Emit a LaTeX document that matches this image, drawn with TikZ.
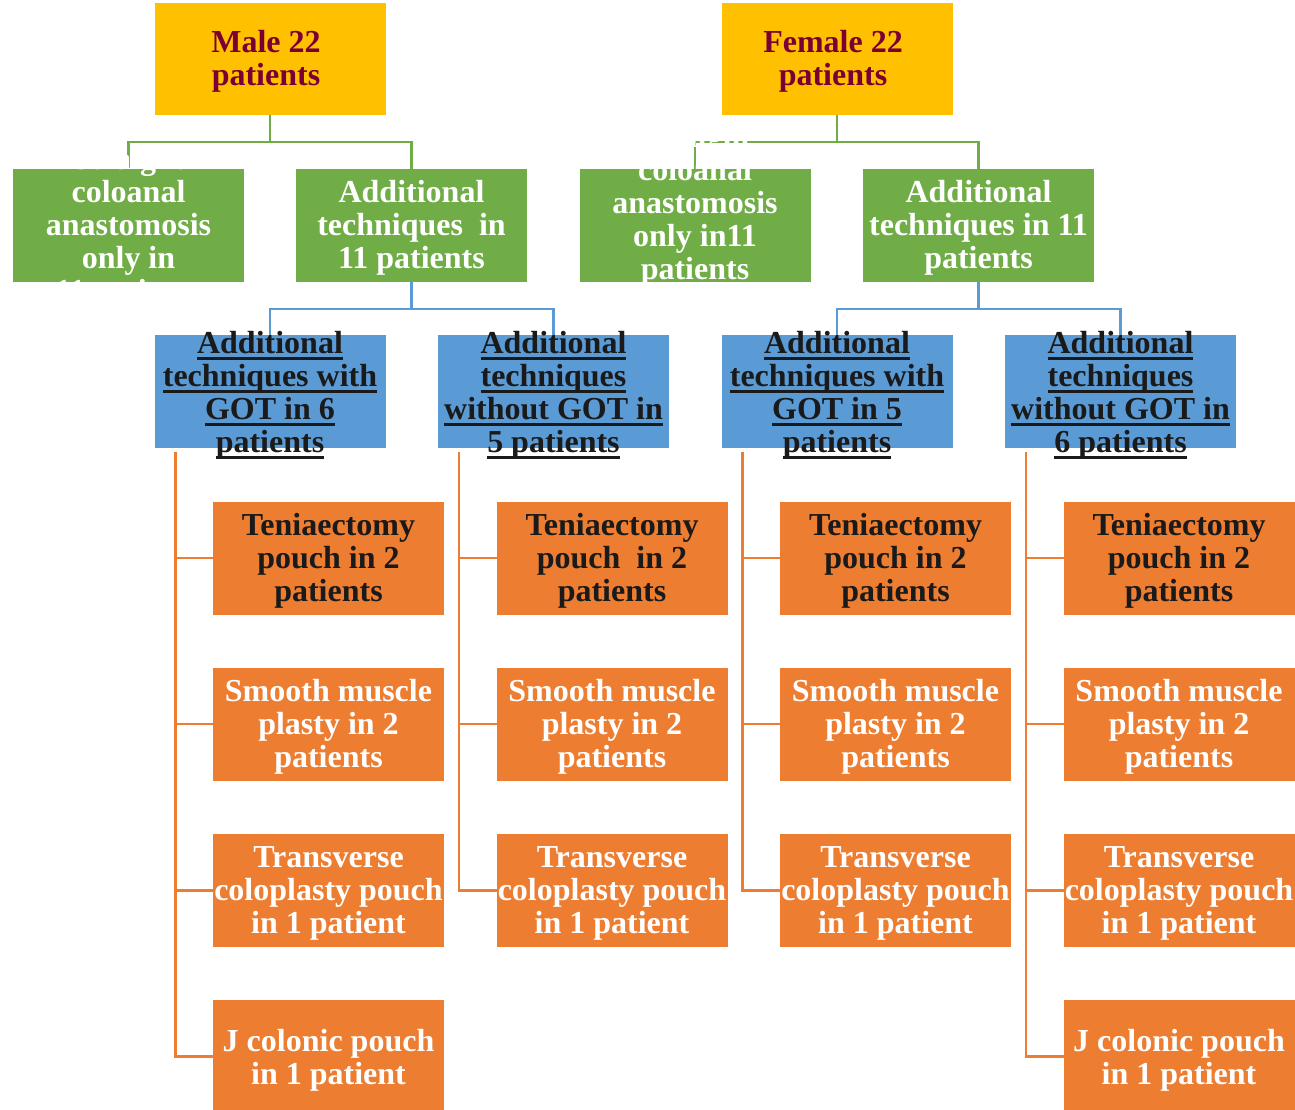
\documentclass[tikz,border=0pt]{standalone}
\usepackage{fontspec}
\setmainfont{Liberation Serif}
\definecolor{yelC}{HTML}{FFC000}
\definecolor{grnC}{HTML}{70AD47}
\definecolor{bluC}{HTML}{5B9BD5}
\definecolor{orgC}{HTML}{ED7D31}
\definecolor{marC}{HTML}{7A0034}
\definecolor{drkC}{HTML}{1A1A1A}
\newcommand\ulx[1]{\setbox0=\hbox{#1}\rlap{\smash{\rule[-6.5pt]{\wd0}{2.8pt}}}\box0}
\begin{document}
\begin{tikzpicture}[x=1pt,y=-1pt,
  box/.style={rectangle, minimum width=231pt, minimum height=113pt, inner sep=0pt, outer sep=0pt},
  yel/.style={box, fill=yelC, minimum height=112pt},
  grn/.style={box, fill=grnC},
  blu/.style={box, fill=bluC},
  org/.style={box, fill=orgC},
  txt/.style={align=center, inner sep=0pt, yshift=-2.5pt, font=\fontsize{32}{33}\selectfont\bfseries},
  wtxt/.style={txt, text=white},
  gline/.style={draw=grnC, line width=2.5pt},
  bline/.style={draw=bluC, line width=2.5pt},
  oline/.style={draw=orgC, line width=2.5pt}]
\useasboundingbox (0,0) rectangle (1295,1110);
% boxes
\node[yel] (male) at (270,59) {};
\node[yel] (fem) at (837,59) {};
\node[grn] (ms) at (128.5,225.5) {};
\node[grn] (ma) at (411.5,225.5) {};
\node[grn] (fs) at (695,225.5) {};
\node[grn] (fa) at (978.5,225.5) {};
\node[blu] (mg) at (270,391.5) {};
\node[blu] (mn) at (553.5,391.5) {};
\node[blu] (fg) at (837,391.5) {};
\node[blu] (fn) at (1120.5,391.5) {};
% orange boxes
\foreach \c/\x in {1/328.5,2/612,3/895.5,4/1179}{
  \node[org] (o\c1) at (\x,558) {};
  \node[org] (o\c2) at (\x,724) {};
  \node[org] (o\c3) at (\x,890.5) {};
}
\node[org] (o14) at (328.5,1056.5) {};
\node[org] (o44) at (1179,1056.5) {};
% connectors
\draw[gline] (male.south) -- ++(0,27) -| (ms.north);
\draw[gline] (male.south) -- ++(0,27) -| (ma.north);
\draw[gline] (fem.south) -- ++(0,27) -| (fs.north);
\draw[gline] (fem.south) -- ++(0,27) -| (fa.north);
\draw[bline] (ma.south) -- ++(0,27) -| (mg.north);
\draw[bline] (ma.south) -- ++(0,27) -| (mn.north);
\draw[bline] (fa.south) -- ++(0,27) -| (fg.north);
\draw[bline] (fa.south) -- ++(0,27) -| (fn.north);
\coordinate (c1) at ([xshift=21pt,yshift=-4pt]mg.south west);
\coordinate (c2) at ([xshift=21pt,yshift=-4pt]mn.south west);
\coordinate (c3) at ([xshift=21pt,yshift=-4pt]fg.south west);
\coordinate (c4) at ([xshift=21pt,yshift=-4pt]fn.south west);
\draw[oline] (c1) |- (o11.west) (c1) |- (o12.west) (c1) |- (o13.west) (c1) |- (o14.west);
\draw[oline] (c2) |- (o21.west) (c2) |- (o22.west) (c2) |- (o23.west);
\draw[oline] (c3) |- (o31.west) (c3) |- (o32.west) (c3) |- (o33.west);
\draw[oline] (c4) |- (o41.west) (c4) |- (o42.west) (c4) |- (o43.west) (c4) |- (o44.west);
% texts
\node[txt, text=marC] (tmale) at ([xshift=-4pt]male.center) {Male 22\\patients};
\node[txt, text=marC] (tfem) at ([xshift=-4pt]fem.center) {Female 22\\patients};
\node[wtxt] (tms) at (ms.center) {Straight\\coloanal\\anastomosis\\only in\\11 patients};
\node[wtxt] (tma) at (ma.center) {Additional\\techniques\ \ in\\11 patients};
\node[wtxt] (tfs) at ([yshift=22pt]fs.center) {Straight\\coloanal\\anastomosis\\only in11\\patients};
\node[wtxt] (tfa) at (fa.center) {Additional\\techniques in 11\\patients};
\node[txt, text=drkC] (tmg) at ([yshift=-1pt]mg.center) {\ulx{Additional}\\\ulx{techniques with}\\\ulx{GOT in 6}\\\ulx{patients}};
\node[txt, text=drkC] (tmn) at ([yshift=-1pt]mn.center) {\ulx{Additional}\\\ulx{techniques}\\\ulx{without GOT in}\\\ulx{5 patients}};
\node[txt, text=drkC] (tfg) at ([yshift=-1pt]fg.center) {\ulx{Additional}\\\ulx{techniques with}\\\ulx{GOT in 5}\\\ulx{patients}};
\node[txt, text=drkC] (tfn) at ([yshift=-1pt]fn.center) {\ulx{Additional}\\\ulx{techniques}\\\ulx{without GOT in}\\\ulx{6 patients}};
\node[txt, text=drkC] (t11) at (o11.center) {Teniaectomy\\pouch in 2\\patients};
\node[txt, text=drkC] (t21) at (o21.center) {Teniaectomy\\pouch\ \ in 2\\patients};
\node[txt, text=drkC] (t31) at (o31.center) {Teniaectomy\\pouch in 2\\patients};
\node[txt, text=drkC] (t41) at (o41.center) {Teniaectomy\\pouch in 2\\patients};
\foreach \c in {1,2,3,4}{
  \node[wtxt] (t\c2) at (o\c2.center) {Smooth muscle\\plasty in 2\\patients};
  \node[wtxt] (t\c3) at (o\c3.center) {Transverse\\coloplasty pouch\\in 1 patient};
}
\node[wtxt] (t14) at ([yshift=-1pt]o14.center) {J colonic pouch\\in 1 patient};
\node[wtxt] (t44) at ([yshift=-1pt]o44.center) {J colonic pouch\\in 1 patient};
\end{tikzpicture}
\end{document}
